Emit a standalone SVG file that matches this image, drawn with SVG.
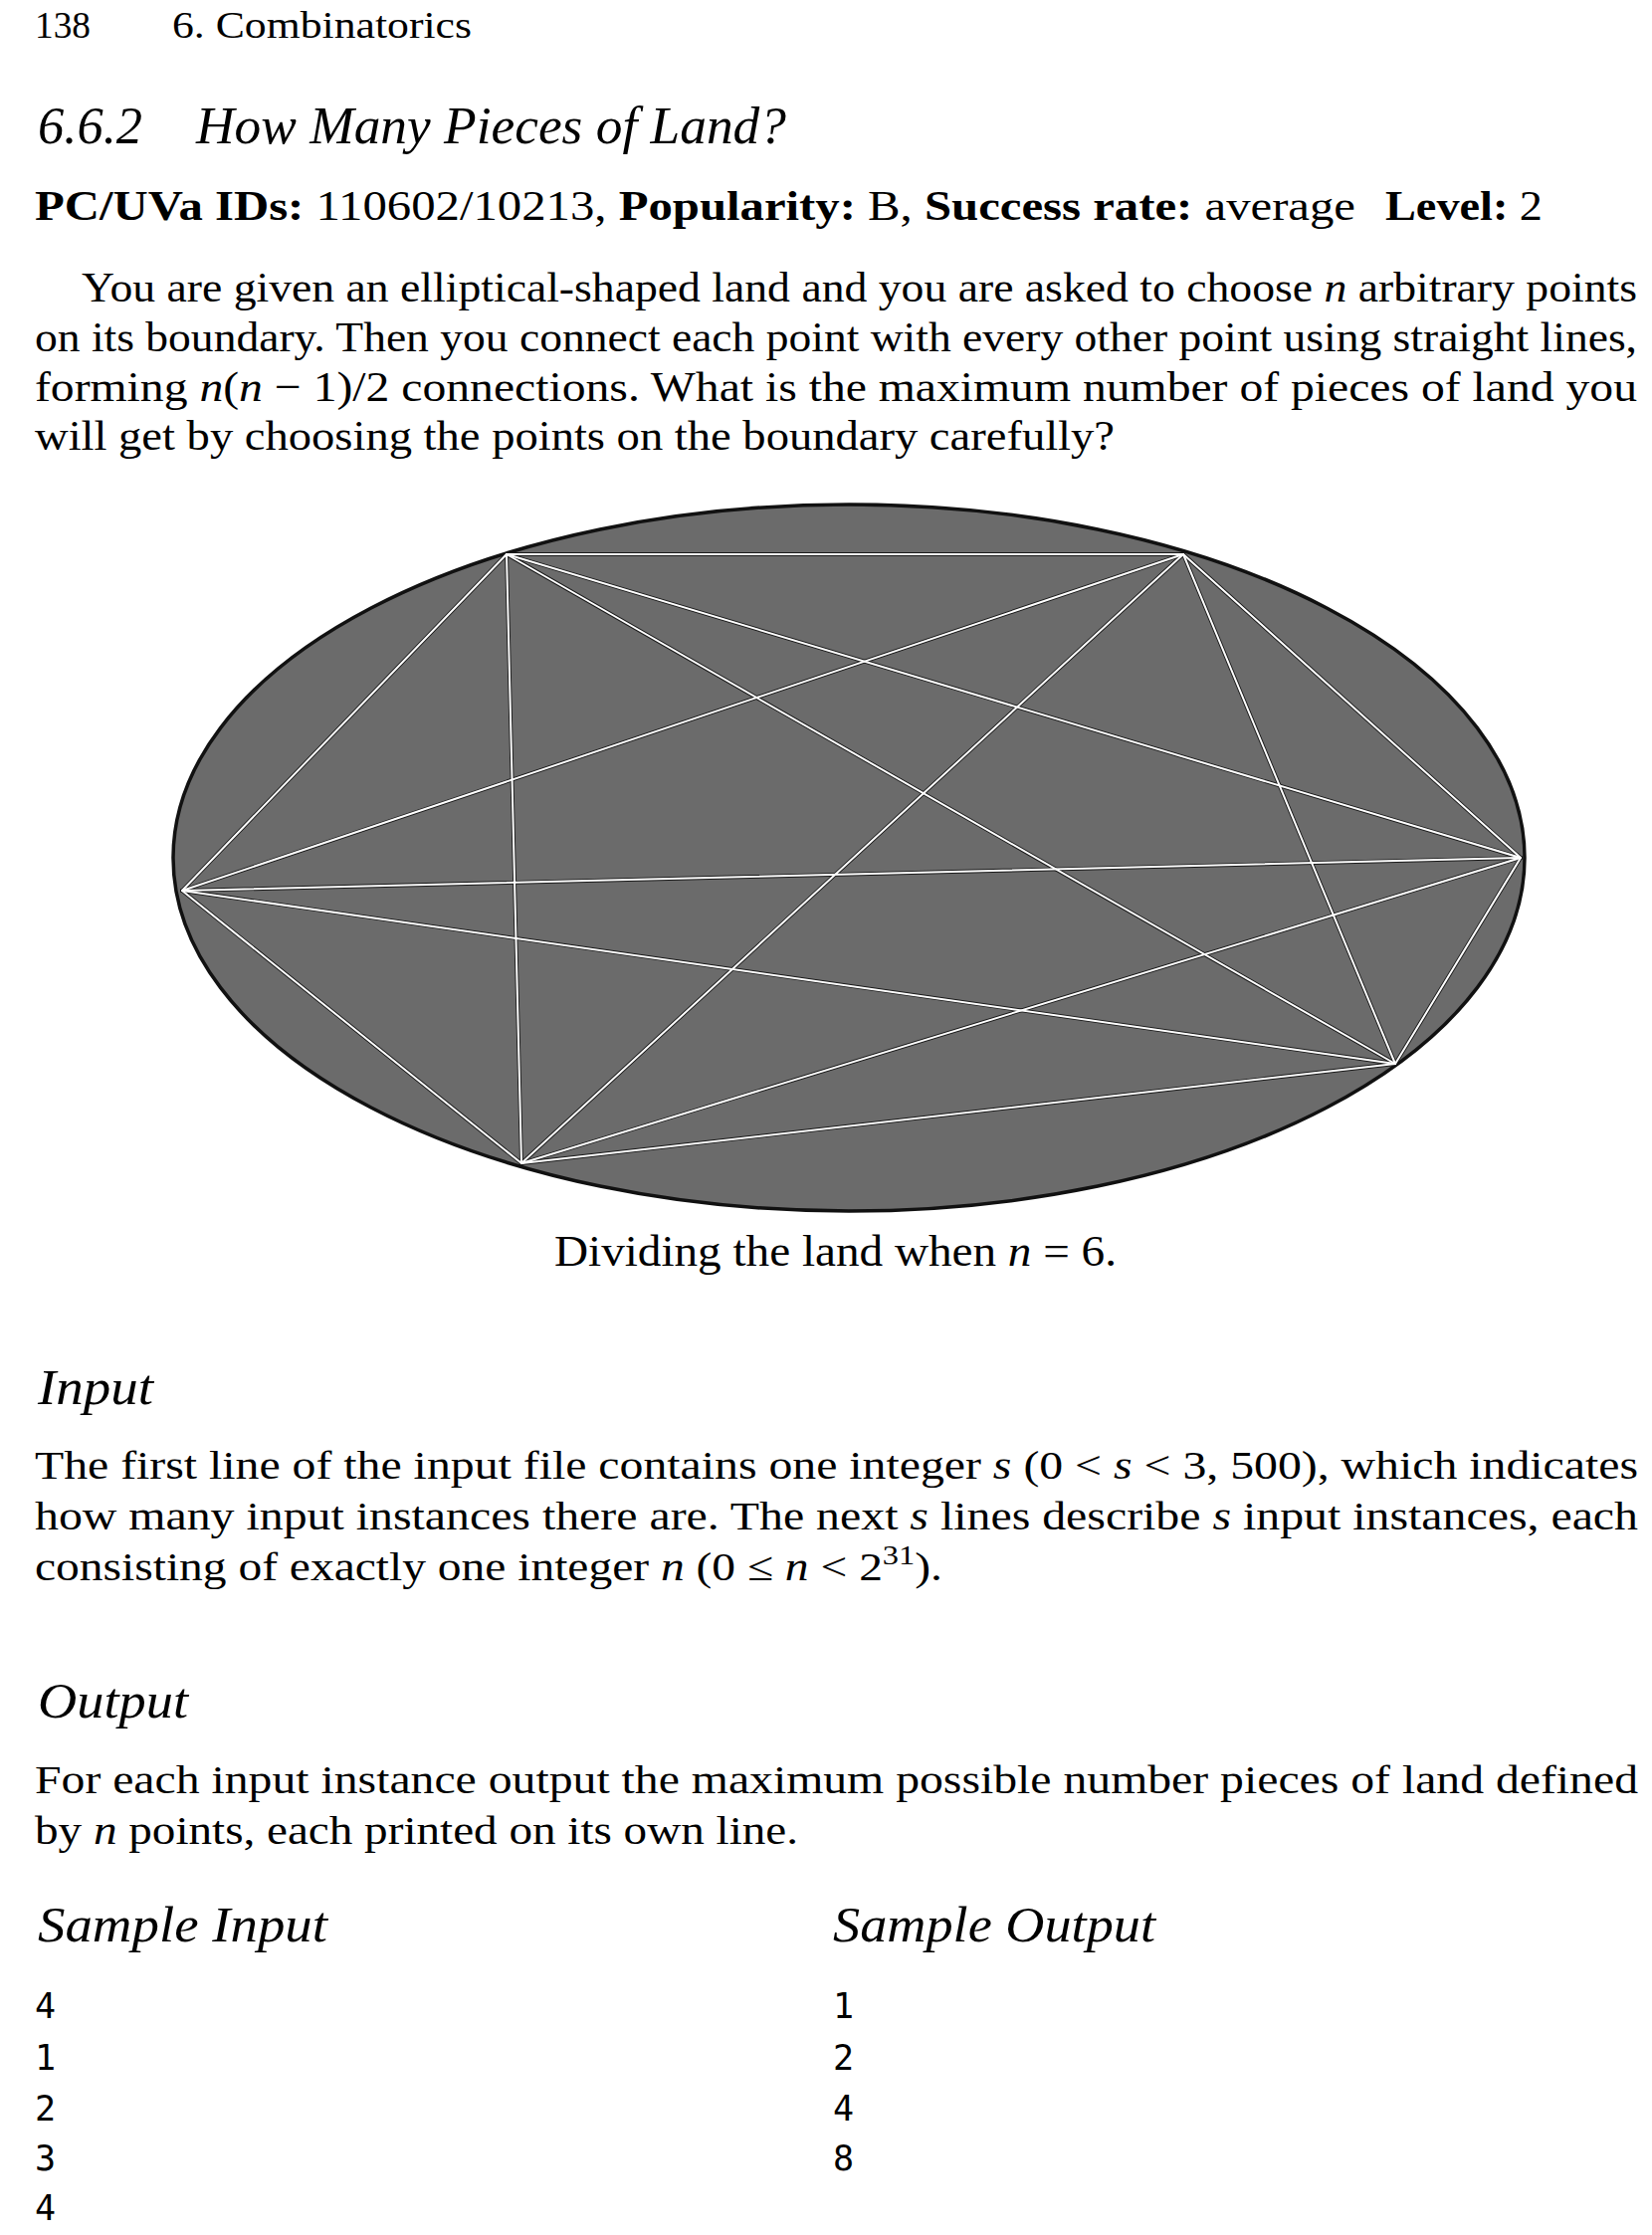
<svg xmlns="http://www.w3.org/2000/svg" width="1660" height="2246" viewBox="0 0 1660 2246">
<style>
text{font-family:"Liberation Serif","DejaVu Serif",serif;fill:#000}
.it{font-style:italic}
.b{font-weight:bold}
.mono{font-family:"DejaVu Sans Mono","Liberation Mono",monospace}
.edge{stroke:#1a1a1a;stroke-width:3.8;fill:none;stroke-linecap:round}
.core{stroke:#ffffff;stroke-width:2;fill:none;stroke-linecap:round}
</style>
<rect x="0" y="0" width="1660" height="2246" fill="#ffffff"/>

<g id="header">
<text x="35" y="38" font-size="37" textLength="56" lengthAdjust="spacingAndGlyphs">138</text>
<text x="173" y="38" font-size="37" textLength="301" lengthAdjust="spacingAndGlyphs">6. Combinatorics</text>
</g>

<g id="title">
<text class="it" x="38" y="144" font-size="52" textLength="105" lengthAdjust="spacingAndGlyphs">6.6.2</text>
<text class="it" x="197" y="144" font-size="52" textLength="593" lengthAdjust="spacingAndGlyphs">How Many Pieces of Land?</text>
</g>

<g id="ids">
<text x="35" y="221" font-size="43" textLength="1327" lengthAdjust="spacingAndGlyphs"><tspan class="b">PC/UVa IDs:</tspan> 110602/10213, <tspan class="b">Popularity:</tspan> B, <tspan class="b">Success rate:</tspan> average</text>
<text x="1392" y="221" font-size="43" textLength="158" lengthAdjust="spacingAndGlyphs"><tspan class="b">Level:</tspan> 2</text>
</g>

<g id="intro">
<text x="82" y="303" font-size="43" textLength="1563" lengthAdjust="spacingAndGlyphs">You are given an elliptical-shaped land and you are asked to choose <tspan class="it">n</tspan> arbitrary points</text>
<text x="35" y="353" font-size="43" textLength="1610" lengthAdjust="spacingAndGlyphs">on its boundary. Then you connect each point with every other point using straight lines,</text>
<text x="35" y="403" font-size="43" textLength="1610" lengthAdjust="spacingAndGlyphs">forming <tspan class="it">n</tspan>(<tspan class="it">n</tspan> − 1)/2 connections. What is the maximum number of pieces of land you</text>
<text x="35" y="452" font-size="43" textLength="1085" lengthAdjust="spacingAndGlyphs">will get by choosing the points on the boundary carefully?</text>
</g>

<g id="land">
<ellipse cx="853" cy="862" rx="679" ry="355" fill="#6b6b6b" stroke="#111111" stroke-width="3.5"/>
</g>

<g id="connectors">
<g class="edge">
<line x1="509" y1="557" x2="1189" y2="557"/>
<line x1="509" y1="557" x2="1528" y2="862"/>
<line x1="509" y1="557" x2="1402" y2="1069"/>
<line x1="509" y1="557" x2="524" y2="1169"/>
<line x1="509" y1="557" x2="183" y2="895"/>
<line x1="1189" y1="557" x2="1528" y2="862"/>
<line x1="1189" y1="557" x2="1402" y2="1069"/>
<line x1="1189" y1="557" x2="524" y2="1169"/>
<line x1="1189" y1="557" x2="183" y2="895"/>
<line x1="1528" y1="862" x2="1402" y2="1069"/>
<line x1="1528" y1="862" x2="524" y2="1169"/>
<line x1="1528" y1="862" x2="183" y2="895"/>
<line x1="1402" y1="1069" x2="524" y2="1169"/>
<line x1="1402" y1="1069" x2="183" y2="895"/>
<line x1="524" y1="1169" x2="183" y2="895"/>
</g>
<g class="core">
<line x1="509" y1="557" x2="1189" y2="557"/>
<line x1="509" y1="557" x2="1528" y2="862"/>
<line x1="509" y1="557" x2="1402" y2="1069"/>
<line x1="509" y1="557" x2="524" y2="1169"/>
<line x1="509" y1="557" x2="183" y2="895"/>
<line x1="1189" y1="557" x2="1528" y2="862"/>
<line x1="1189" y1="557" x2="1402" y2="1069"/>
<line x1="1189" y1="557" x2="524" y2="1169"/>
<line x1="1189" y1="557" x2="183" y2="895"/>
<line x1="1528" y1="862" x2="1402" y2="1069"/>
<line x1="1528" y1="862" x2="524" y2="1169"/>
<line x1="1528" y1="862" x2="183" y2="895"/>
<line x1="1402" y1="1069" x2="524" y2="1169"/>
<line x1="1402" y1="1069" x2="183" y2="895"/>
<line x1="524" y1="1169" x2="183" y2="895"/>
</g>
</g>

<g id="caption">
<text x="557" y="1272" font-size="44" textLength="565" lengthAdjust="spacingAndGlyphs">Dividing the land when <tspan class="it">n</tspan> = 6.</text>
</g>

<g id="input">
<text class="it" x="38" y="1411" font-size="50" textLength="116" lengthAdjust="spacingAndGlyphs">Input</text>
<text x="35" y="1486" font-size="41" textLength="1611" lengthAdjust="spacingAndGlyphs">The first line of the input file contains one integer <tspan class="it">s</tspan> (0 &lt; <tspan class="it">s</tspan> &lt; 3, 500), which indicates</text>
<text x="35" y="1537" font-size="41" textLength="1611" lengthAdjust="spacingAndGlyphs">how many input instances there are. The next <tspan class="it">s</tspan> lines describe <tspan class="it">s</tspan> input instances, each</text>
<text x="35" y="1588" font-size="41" textLength="912" lengthAdjust="spacingAndGlyphs">consisting of exactly one integer <tspan class="it">n</tspan> (0 ≤ <tspan class="it">n</tspan> &lt; 2<tspan font-size="28" dy="-16">31</tspan><tspan dy="16">).</tspan></text>
</g>

<g id="output">
<text class="it" x="38" y="1726" font-size="50" textLength="151" lengthAdjust="spacingAndGlyphs">Output</text>
<text x="35" y="1802" font-size="41" textLength="1611" lengthAdjust="spacingAndGlyphs">For each input instance output the maximum possible number pieces of land defined</text>
<text x="35" y="1853" font-size="41" textLength="767" lengthAdjust="spacingAndGlyphs">by <tspan class="it">n</tspan> points, each printed on its own line.</text>
</g>

<g id="sample-input">
<text class="it" x="38" y="1951" font-size="50" textLength="291" lengthAdjust="spacingAndGlyphs">Sample Input</text>
<text class="mono" x="35" y="2028" font-size="35">4</text>
<text class="mono" x="35" y="2080" font-size="35">1</text>
<text class="mono" x="35" y="2131" font-size="35">2</text>
<text class="mono" x="35" y="2181" font-size="35">3</text>
<text class="mono" x="35" y="2231" font-size="35">4</text>
</g>

<g id="sample-output">
<text class="it" x="837" y="1951" font-size="50" textLength="324" lengthAdjust="spacingAndGlyphs">Sample Output</text>
<text class="mono" x="837" y="2028" font-size="35">1</text>
<text class="mono" x="837" y="2080" font-size="35">2</text>
<text class="mono" x="837" y="2131" font-size="35">4</text>
<text class="mono" x="837" y="2181" font-size="35">8</text>
</g>
</svg>
